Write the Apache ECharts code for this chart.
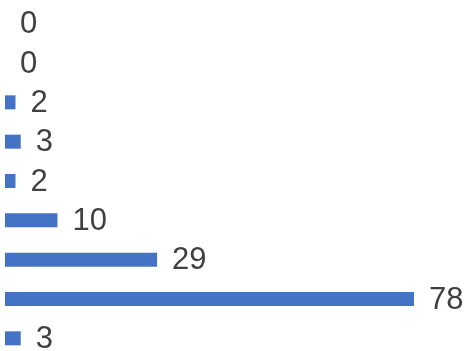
<!DOCTYPE html>
<html>
<head>
<meta charset="utf-8">
<script src="https://cdn.jsdelivr.net/npm/echarts@6/dist/echarts.min.js"></script>
<style>
  html, body { margin: 0; padding: 0; background: #fff; }
  #chart { width: 466px; height: 351px; }
</style>
</head>
<body>
<div id="chart"></div>
<script>
// categories top to bottom (no labels shown in the picture)
const categories = ['c1', 'c2', 'c3', 'c4', 'c5', 'c6', 'c7', 'c8', 'c9'];
const values = [0, 0, 2, 3, 2, 10, 29, 78, 3];

const chart = echarts.init(document.getElementById('chart'));

const option = {
    animation: false,
    grid: {
        left: 5,
        top: 4,
        height: 354,
        width: 419.5,
        outerBoundsMode: 'none'
    },
    xAxis: {
        type: 'value',
        min: 0,
        max: 80,
        show: false
    },
    yAxis: {
        type: 'category',
        data: categories,
        inverse: true,
        show: false
    },
    series: [
        {
            type: 'bar',
            data: values,
            barWidth: 14,
            itemStyle: { color: '#4472C4' },
            label: {
                show: true,
                position: 'right',
                distance: 15,
                offset: [0, 1],
                color: '#404040',
                fontSize: 31,
                fontFamily: 'Liberation Sans'
            }
        }
    ]
};

chart.setOption(option);
</script>
</body>
</html>
